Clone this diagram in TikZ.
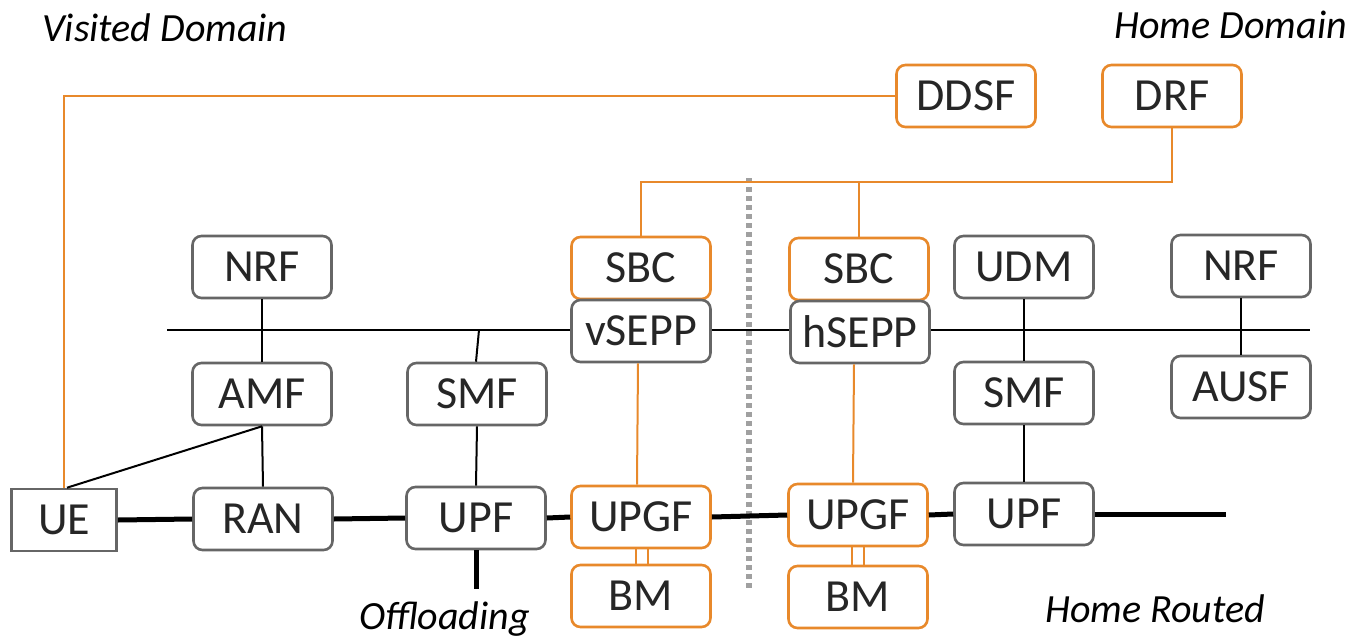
\documentclass[tikz,border=0pt]{standalone}
\usepackage{fontspec}
\setmainfont{Carlito}
\definecolor{org}{HTML}{E8892B}
\definecolor{gbd}{HTML}{666666}
\definecolor{txt}{HTML}{262626}
\definecolor{dotc}{HTML}{A0A0A0}
\begin{document}
\begin{tikzpicture}[x=1pt,y=-1pt,
  nf/.style={draw=gbd, fill=white, line width=2.6pt, rounded corners=9pt,
    minimum width=139pt, minimum height=62pt, inner sep=0pt, text=txt,
    font=\fontsize{46}{52}\selectfont},
  of/.style={nf, draw=org},
  sq/.style={nf, rounded corners=0pt, minimum width=105pt},
  ol/.style={draw=org, line width=2pt},
  dl/.style={draw=org, line width=1.6pt},
  bln/.style={draw=black, line width=2pt},
  thk/.style={draw=black, line width=5pt},
  dotline/.style={draw=dotc, line width=6pt, dash pattern=on 5pt off 4pt},
  lab/.style={inner sep=0pt, text=black, font=\fontsize{40}{46}\selectfont\itshape}]
\useasboundingbox (0,0) rectangle (1361,643);

% labels
\node[lab, anchor=base west] (vd) at (42,41) {Visited Domain};
\node[lab, anchor=base east] (hd) at (1347,38) {Home Domain};
\node[lab, anchor=base west] (offl) at (359,629) {Offloading};
\node[lab, anchor=base west] (hr) at (1045,622) {Home Routed};

% domain separator
\coordinate (dtop) at (749,178);
\coordinate (dbot) at (749,590);
\draw[dotline] (dtop) -- (dbot);

% nodes
\node[of] (ddsf) at (966,96) {DDSF};
\node[of] (drf) at (1172,96) {DRF};
\node[of] (sbcL) at (641,268) {SBC};
\node[nf] (vsepp) at (641,331) {vSEPP};
\node[of] (sbcR) at (859,269) {SBC};
\node[nf] (hsepp) at (860,332) {hSEPP};
\node[nf] (nrfL) at (262,267) {NRF};
\node[nf] (amf) at (262,394) {AMF};
\node[nf] (smfL) at (477,394) {SMF};
\node[nf] (udm) at (1024,267) {UDM};
\node[nf] (smfR) at (1024,393) {SMF};
\node[nf] (nrfR) at (1241,266) {NRF};
\node[nf] (ausf) at (1241,387) {AUSF};
\node[sq] (ue) at (64,520) {UE};
\node[nf] (ran) at (263,519) {RAN};
\node[nf] (upfL) at (476,518) {UPF};
\node[of] (upgfL) at (641,517) {UPGF};
\node[of] (bmL) at (641,596) {BM};
\node[of] (upgfR) at (858,515) {UPGF};
\node[of] (bmR) at (858,597) {BM};
\node[nf] (upfR) at (1024,514) {UPF};

% orange signalling lines
\coordinate (obus) at (1172,182);
\draw[ol] (ddsf.west) -| (ue.north);
\draw[ol] (drf.south) -- (obus) -| (sbcL.north);
\draw[ol] (sbcR.north) -- (sbcR.north |- obus);
\draw[ol] ([xshift=-3pt]vsepp.south) -- ([xshift=-4pt]upgfL.north);
\draw[ol] ([xshift=-6pt]hsepp.south) -- ([xshift=-5pt]upgfR.north);
\draw[dl] ([xshift=-5pt]upgfL.south) -- ([xshift=-5pt]bmL.north);
\draw[dl] ([xshift=7pt]upgfL.south) -- ([xshift=7pt]bmL.north);
\draw[dl] ([xshift=-6pt]upgfR.south) -- ([xshift=-6pt]bmR.north);
\draw[dl] ([xshift=6pt]upgfR.south) -- ([xshift=6pt]bmR.north);

% service bus
\coordinate (bl) at (167,330);
\coordinate (br) at (1310,330);
\draw[bln] (bl) -- (bl -| vsepp.west);
\draw[bln] (vsepp.east |- bl) -- (hsepp.west |- bl);
\draw[bln] (hsepp.east |- bl) -- (br);

% control plane
\draw[bln] (nrfL.south) -- (amf.north);
\draw[bln] ([xshift=-1pt]smfL.north) -- ([xshift=2pt]smfL.north |- bl);
\draw[bln] (udm.south) -- (smfR.north);
\draw[bln] (nrfR.south) -- (ausf.north);
\draw[bln] (amf.south) -- (ran.north);
\draw[bln] (amf.south) -- ([xshift=3pt]ue.north);
\draw[bln] (smfL.south) -- (upfL.north);
\draw[bln] (smfR.south) -- (upfR.north);

% user plane
\coordinate (hend) at (1226,514);
\coordinate (offend) at (476,589);
\draw[thk] (ue.east) -- (ran.west);
\draw[thk] (ran.east) -- (upfL.west);
\draw[thk] (upfL.east) -- (upgfL.west);
\draw[thk] (upgfL.east) -- (upgfR.west);
\draw[thk] (upgfR.east) -- (upfR.west);
\draw[thk] (upfR.east) -- (hend);
\draw[thk] (upfL.south) -- (offend);
\end{tikzpicture}
\end{document}
